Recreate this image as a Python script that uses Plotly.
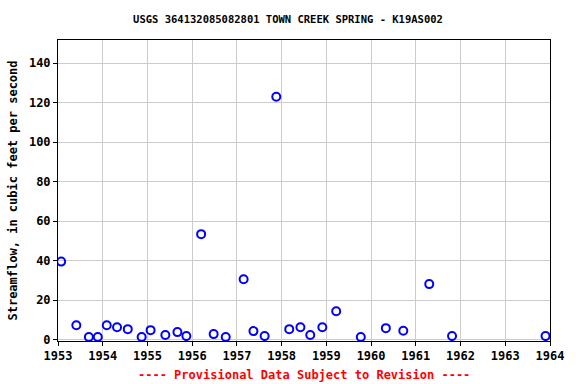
import plotly.graph_objects as go

# decimal year of each measurement
years = [1953.07, 1953.41, 1953.69, 1953.89, 1954.09, 1954.32, 1954.56, 1954.87,
         1955.07, 1955.40, 1955.67, 1955.87, 1956.20, 1956.48, 1956.75, 1957.15,
         1957.37, 1957.62, 1957.88, 1958.17, 1958.42, 1958.64, 1958.91, 1959.22,
         1959.77, 1960.33, 1960.72, 1961.30, 1961.81, 1963.90]
flow = [39.5, 7.3, 1.3, 1.3, 7.3, 6.3, 5.3, 1.3,
        4.8, 2.3, 3.8, 1.8, 53.4, 2.8, 1.3, 30.6,
        4.3, 1.8, 123.0, 5.3, 6.3, 2.3, 6.3, 14.4,
        1.3, 5.8, 4.5, 28.1, 1.8, 1.8]

title = "USGS 364132085082801 TOWN CREEK SPRING - K19AS002"
ylabel = "Streamflow, in cubic feet per second"
footer = "---- Provisional Data Subject to Revision ----"
xticks = list(range(1953, 1965))
yticks = [0, 20, 40, 60, 80, 100, 120, 140]

font_family = "DejaVu Sans Mono"

fig = go.Figure()
fig.add_trace(go.Scatter(
    x=years, y=flow, mode="markers",
    marker=dict(symbol="circle-open", size=8, color="#0000ff", line=dict(width=2, color="#0000ff")),
    showlegend=False,
))

fig.update_layout(
    width=576, height=384,
    margin=dict(l=58, r=21, t=40, b=43),
    paper_bgcolor="white", plot_bgcolor="white",
    title=dict(text=title, x=0.5, xanchor="center", y=1 - 19/384, yanchor="middle",
               font=dict(family=font_family, size=10.5, color="black", weight="bold")),
    font=dict(family=font_family, size=12, color="black"),
    annotations=[dict(text=footer, xref="paper", yref="paper", x=0.5, xanchor="center",
                      y=-(375 - 341) / 301, yanchor="middle", showarrow=False,
                      font=dict(family=font_family, size=12, color="red", weight="bold"))],
)
fig.update_xaxes(
    range=[1953, 1964], tickvals=xticks, ticktext=[str(t) for t in xticks],
    showgrid=True, gridcolor="#cccccc", gridwidth=1,
    showline=True, linecolor="black", linewidth=1, mirror=True,
    ticks="outside", ticklen=4, tickcolor="black",
    zeroline=False,
    tickfont=dict(family=font_family, size=12, color="black", weight="bold"),
)
fig.update_yaxes(
    range=[-0.7, 151.7], tickvals=yticks,
    showgrid=True, gridcolor="#cccccc", gridwidth=1,
    showline=True, linecolor="black", linewidth=1, mirror=True,
    ticks="outside", ticklen=4, tickcolor="black",
    zeroline=False,
    title=dict(text=ylabel, standoff=8,
               font=dict(family=font_family, size=12, color="black", weight="bold")),
    tickfont=dict(family=font_family, size=12, color="black", weight="bold"),
)

fig.write_html("out.html")
